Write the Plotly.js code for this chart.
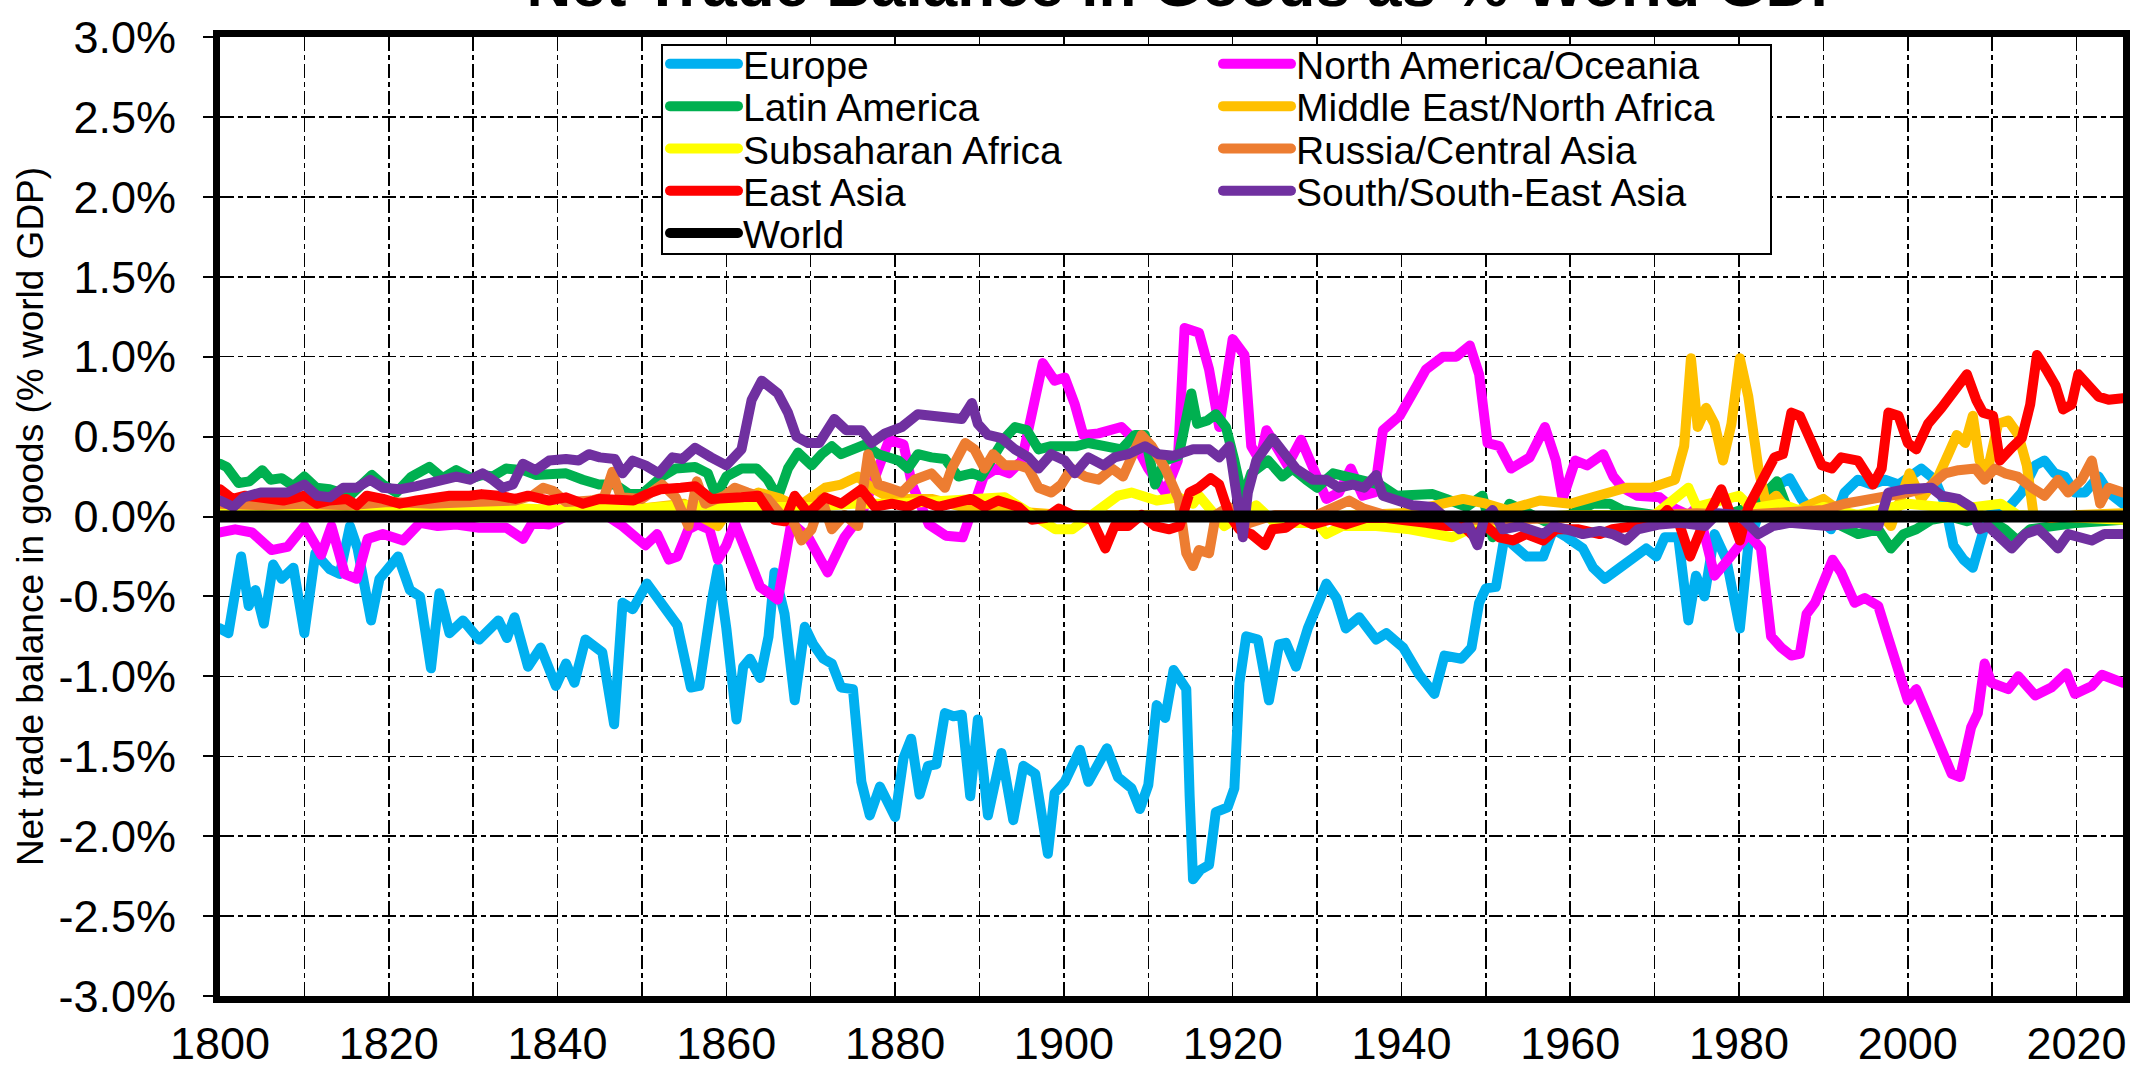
<!DOCTYPE html>
<html>
<head>
<meta charset="utf-8">
<script src="https://cdn.plot.ly/plotly-3.0.1.min.js"></script>
<style>
html,body{margin:0;padding:0;background:#fff;}
#chart{width:2131px;height:1074px;}
#chart .scatterlayer path.js-line{stroke-linejoin:round !important;stroke-linecap:round !important;}
#chart .legendlines path{stroke-linecap:round !important;}
</style>
</head>
<body>
<div id="chart"></div>
<script>
// ---------------- DATA (% of world GDP) ----------------
const seriesNames = ["Europe","North America/Oceania","Latin America","Middle East/North Africa",
  "Subsaharan Africa","Russia/Central Asia","East Asia","South/South-East Asia","World"];
const seriesColors = ["#00B0F0","#FF00FF","#00B050","#FFC000","#FFFF00","#ED7D31","#FF0000","#7030A0","#000000"];
// legend layout: column and row of each series in the two-column legend box
const legendCol = [0,1,0,1,0,1,0,1,0];
const legendRow = [0,0,1,1,2,2,3,3,4];

const europeYears = [1800,1801,1802.5,1803.4,1804.2,1805.2,1806.3,1807.3,1808.7,1810,1811.3,1813,1814.2,1815.4,1816.3,1817.9,1818.9,1821.1,1822.5,1823.7,1825,1826,1827.2,1828.8,1830.7,1833,1834,1834.9,1836.5,1838,1839.8,1841,1842,1843.3,1845.3,1846.7,1847.7,1848.9,1850.6,1852.6,1854.2,1855.8,1856.8,1858.4,1859,1860,1861.2,1862,1862.8,1864,1865,1865.7,1866.9,1868.1,1869.3,1870.3,1871.5,1872.5,1873.6,1875,1876,1877,1878.2,1880,1881,1881.9,1882.9,1883.9,1884.9,1885.9,1886.9,1887.9,1888.9,1889.8,1891,1892.6,1894,1895.2,1896.6,1898.1,1898.9,1900.1,1901.9,1902.9,1905.1,1906.4,1908,1909,1910,1911,1912,1913,1914.5,1914.9,1915.3,1916.2,1917.2,1918,1919.4,1920.2,1920.8,1921.6,1923,1924.3,1925.5,1926.3,1927.5,1928.9,1931.1,1932.3,1933.4,1935,1937,1938.2,1940.2,1942.1,1943.9,1945.1,1947.1,1948.3,1949.2,1950,1951.2,1952.2,1953.2,1954.8,1956.8,1958,1959.6,1961.5,1962.7,1964.1,1965.9,1967.4,1969,1970.2,1971.2,1972.8,1974,1974.9,1975.9,1977.1,1978.5,1980.1,1981.1,1982.6,1984.2,1986,1987.4,1989,1990.9,1992.5,1994.1,1995.7,1997.3,1998.9,2000.4,2001.6,2003.2,2004.4,2005.4,2006.6,2007.7,2008.7,2009.5,2011.5,2013.5,2015.1,2016.2,2017.4,2018.6,2019.8,2021,2022.6,2023.8,2025.5];
const europeValues = [-0.70,-0.73,-0.25,-0.56,-0.46,-0.67,-0.30,-0.39,-0.32,-0.73,-0.23,-0.33,-0.36,-0.06,-0.20,-0.65,-0.39,-0.25,-0.46,-0.50,-0.95,-0.48,-0.73,-0.65,-0.77,-0.65,-0.76,-0.63,-0.94,-0.82,-1.06,-0.92,-1.04,-0.77,-0.85,-1.30,-0.54,-0.58,-0.42,-0.56,-0.68,-1.07,-1.06,-0.49,-0.32,-0.70,-1.27,-0.94,-0.89,-1.01,-0.75,-0.35,-0.61,-1.15,-0.69,-0.80,-0.89,-0.92,-1.07,-1.08,-1.66,-1.87,-1.69,-1.88,-1.51,-1.39,-1.74,-1.56,-1.55,-1.23,-1.25,-1.24,-1.75,-1.27,-1.87,-1.48,-1.90,-1.56,-1.61,-2.11,-1.73,-1.66,-1.46,-1.66,-1.45,-1.63,-1.70,-1.83,-1.68,-1.18,-1.26,-0.96,-1.08,-1.75,-2.27,-2.21,-2.18,-1.85,-1.82,-1.70,-1.04,-0.75,-0.77,-1.15,-0.80,-0.79,-0.94,-0.70,-0.42,-0.51,-0.70,-0.63,-0.77,-0.73,-0.82,-0.99,-1.11,-0.87,-0.89,-0.82,-0.54,-0.45,-0.44,-0.13,-0.18,-0.25,-0.25,-0.08,-0.13,-0.20,-0.32,-0.39,-0.32,-0.27,-0.20,-0.25,-0.13,-0.13,-0.65,-0.37,-0.50,-0.11,-0.27,-0.70,-0.18,0.06,0.18,0.24,0.11,0.01,-0.08,0.15,0.23,0.20,0.23,0.20,0.25,0.30,0.23,0.08,-0.18,-0.27,-0.32,-0.13,0.01,0.03,0.15,0.32,0.35,0.27,0.25,0.15,0.15,0.25,0.15,0.08];

const northAmericaYears = [1800,1801.8,1803.8,1806.1,1808,1810,1812,1813.2,1814.8,1816.2,1817.5,1819.3,1821.7,1823.7,1825.8,1828,1830.7,1833.9,1835.9,1837,1839,1841,1844,1846,1847.7,1850.4,1851.8,1853.2,1854.2,1855.5,1856.6,1858,1859,1860,1861,1862.6,1864,1866.1,1867.1,1867.7,1869.7,1872,1874,1876,1878,1879.3,1881,1882,1884,1886,1888,1889.3,1890.5,1892,1893.5,1895,1896,1897.5,1898.9,1900.1,1901.3,1902.3,1904.1,1906.8,1908,1910,1912,1913.5,1914.3,1916,1917.2,1918.4,1920,1921.4,1922.2,1923.2,1924,1925.1,1926.5,1928.1,1929.5,1931.1,1932.6,1934,1935.4,1936.8,1937.8,1939.8,1941.3,1942.9,1944.9,1946.5,1948.1,1949.2,1950.2,1951.6,1953,1955.2,1957,1958.3,1959.1,1960.6,1962,1963.9,1965.1,1966.2,1967.9,1970.6,1972,1974,1975.1,1976.5,1977.1,1978.7,1979.9,1981.1,1982.6,1983.8,1985,1986.2,1987.2,1988,1989,1990.2,1991.1,1992.1,1993.7,1994.9,1996.5,1997.5,1998.9,2000,2001,2002.4,2004,2005.2,2006.2,2007.5,2008.3,2009.1,2009.9,2011.9,2013.1,2015.1,2017,2018.8,2019.8,2021.8,2023,2025.5];
const northAmericaValues = [-0.10,-0.08,-0.10,-0.21,-0.19,-0.06,-0.24,-0.06,-0.36,-0.39,-0.14,-0.11,-0.15,-0.04,-0.06,-0.05,-0.07,-0.07,-0.14,-0.04,-0.05,0.00,0.02,0.00,-0.06,-0.18,-0.11,-0.27,-0.25,-0.08,-0.05,-0.08,-0.27,-0.18,-0.04,-0.27,-0.44,-0.52,-0.20,-0.04,-0.13,-0.35,-0.13,0.01,0.30,0.48,0.45,0.20,-0.05,-0.12,-0.13,0.05,0.25,0.30,0.27,0.35,0.60,0.96,0.85,0.87,0.70,0.51,0.52,0.56,0.50,0.30,0.15,0.35,1.18,1.15,0.92,0.56,1.11,1.01,0.44,0.35,0.54,0.44,0.32,0.48,0.30,0.11,0.15,0.30,0.13,0.15,0.54,0.63,0.77,0.92,1.00,1.00,1.07,0.89,0.46,0.44,0.30,0.37,0.56,0.35,0.11,0.35,0.32,0.39,0.25,0.18,0.13,0.12,0.06,0.01,0.06,-0.23,-0.37,-0.27,-0.18,-0.11,-0.20,-0.75,-0.82,-0.87,-0.86,-0.61,-0.54,-0.39,-0.27,-0.35,-0.54,-0.51,-0.56,-0.73,-0.94,-1.15,-1.08,-1.27,-1.46,-1.61,-1.63,-1.32,-1.23,-0.92,-1.04,-1.08,-1.00,-1.12,-1.07,-0.98,-1.11,-1.06,-0.99,-1.04];

const latinAmericaYears = [1800,1800.8,1802.2,1803.5,1805,1806,1807.3,1808.7,1810,1811.4,1813,1815.4,1818,1819.3,1820.9,1822.7,1824.8,1826.4,1828,1829.8,1831.1,1832.3,1833.9,1835.9,1837.4,1839,1841,1843,1844.9,1846.8,1848.5,1850,1852.4,1854,1856.3,1857.8,1858.8,1860,1861.8,1863.6,1864.9,1866.1,1867.3,1868.5,1870.1,1871.3,1872.5,1873.6,1875.2,1876.4,1878,1879.2,1880.4,1881.5,1882.7,1884.3,1885.9,1887.5,1889.1,1890.2,1891.4,1893,1894.2,1895.6,1897,1898.5,1900.1,1901.5,1902.9,1904.9,1906.8,1908.4,1909.6,1910.8,1912,1913.6,1915.1,1915.8,1917,1918,1919.2,1920.2,1921.2,1922.2,1924.2,1925.9,1927.1,1928.7,1930,1931.9,1933.8,1935.4,1937.4,1939.4,1941.3,1943.7,1945.3,1947.7,1949.6,1950.8,1952.8,1955,1957,1959.5,1962.7,1964.7,1966.2,1970,1975,1979,1981.5,1984.5,1986,1991,1994.1,1996.5,1998,1999.5,2001,2002.8,2005,2007,2009,2011.5,2013,2014.5,2017,2020,2025.5];
const latinAmericaValues = [0.33,0.31,0.21,0.22,0.29,0.23,0.24,0.19,0.25,0.18,0.17,0.13,0.26,0.20,0.15,0.25,0.31,0.24,0.29,0.24,0.26,0.25,0.30,0.29,0.26,0.27,0.27,0.23,0.20,0.20,0.14,0.14,0.25,0.30,0.31,0.27,0.13,0.25,0.30,0.30,0.23,0.12,0.30,0.40,0.32,0.39,0.44,0.39,0.42,0.45,0.39,0.37,0.35,0.30,0.39,0.37,0.36,0.25,0.27,0.25,0.35,0.49,0.56,0.54,0.42,0.44,0.44,0.44,0.46,0.44,0.42,0.51,0.51,0.20,0.35,0.38,0.77,0.58,0.60,0.64,0.56,0.35,0.11,0.27,0.35,0.25,0.30,0.23,0.18,0.27,0.25,0.23,0.20,0.13,0.13,0.14,0.11,0.06,0.13,-0.13,0.08,0.02,-0.03,0.00,0.08,0.08,0.04,0.01,0.00,0.02,0.06,0.22,0.01,-0.03,-0.11,-0.08,-0.20,-0.11,-0.08,-0.02,0.00,-0.03,0.00,-0.08,-0.15,-0.08,-0.06,-0.04,-0.02];

const menaYears = [1800,1820,1840,1850,1855,1856.6,1859,1860.5,1863.8,1866.5,1868.5,1871.7,1873.6,1875.6,1877.2,1879.6,1884.3,1888,1892,1900,1910,1920,1930,1940,1945.3,1947.3,1950,1952.5,1956.4,1960,1962,1964.3,1966.6,1969.6,1972.4,1973.5,1974.3,1975.1,1976.1,1977.1,1978.1,1979.1,1980.1,1981.1,1982.3,1983.2,1984.4,1986.2,1987.8,1990,1991.8,1994.1,1996.5,1998,2000.2,2001.6,2003.6,2004.8,2005.8,2006.8,2007.7,2008.5,2009.5,2010.7,2011.9,2013.1,2014.1,2014.9,2017,2020.2,2025.5];
const menaValues = [0.02,0.03,0.04,0.05,0.08,0.01,-0.06,0.06,0.15,0.11,0.06,0.18,0.20,0.25,0.18,0.11,0.11,0.06,0.04,0.01,0.01,0.00,0.00,0.02,0.08,0.11,0.08,0.04,0.10,0.08,0.11,0.15,0.18,0.18,0.23,0.44,0.99,0.56,0.68,0.58,0.35,0.58,0.99,0.75,0.30,0.08,0.13,0.01,0.06,0.11,0.04,-0.01,0.04,-0.06,0.27,0.11,0.25,0.39,0.51,0.46,0.63,0.35,0.30,0.58,0.60,0.51,0.32,0.01,-0.01,0.01,0.02];

const subsaharanYears = [1800,1810,1820,1830,1833,1836,1840,1845,1850,1855,1860,1865,1870,1875,1880,1885,1890,1893,1896,1899,1901,1903,1906.4,1908,1911,1913.6,1915.3,1916,1917,1919,1922.8,1925,1930,1931.1,1933,1937,1941,1946,1948,1951,1955,1960,1965,1970,1974,1975,1980,1981.5,1985,1988,1990,1994,2000,2004,2008,2011,2013,2017,2025.5];
const subsaharanValues = [0.03,0.04,0.04,0.05,0.06,0.05,0.04,0.05,0.05,0.07,0.06,0.06,0.06,0.08,0.08,0.10,0.11,0.12,0.02,-0.08,-0.08,0.00,0.13,0.15,0.10,0.12,0.08,0.13,0.06,-0.06,0.07,-0.04,-0.04,-0.11,-0.06,-0.06,-0.08,-0.13,-0.08,-0.04,-0.01,0.01,0.01,0.01,0.18,0.06,0.13,0.05,0.08,0.02,0.06,0.01,0.08,0.06,0.06,0.08,0.01,0.00,-0.02];

const russiaYears = [1800,1805,1810,1815,1820,1825,1830,1835,1837,1838.3,1839.5,1841,1844,1845.5,1846.5,1847.5,1850,1852.4,1854,1855.5,1856.5,1857.5,1859.8,1861,1862.5,1864.9,1866.5,1868,1868.9,1870.1,1871.3,1872.5,1874,1875.6,1876.8,1878,1879.2,1880.8,1882.3,1884.3,1885.9,1886.7,1888.3,1889.4,1890.6,1891.6,1893,1894.6,1895.8,1897,1898.5,1899.7,1900.9,1902.5,1904.1,1905.7,1907,1908,1909.2,1910.4,1912,1913.6,1914.5,1915.3,1916,1917.2,1918,1919.5,1922,1925,1930,1933.8,1935.5,1938,1942,1946,1950,1955,1960,1965,1970,1975,1980,1985,1990,1992.5,1995,1997.3,2000,2002.4,2004.4,2006,2008,2009.1,2010.3,2011.5,2013,2014.7,2016.2,2017.8,2019,2020.6,2021.8,2022.8,2023.8,2025.5];
const russiaValues = [0.08,0.07,0.08,0.07,0.09,0.08,0.09,0.10,0.13,0.18,0.16,0.09,0.10,0.12,0.28,0.12,0.11,0.20,0.12,-0.06,0.22,0.08,0.13,0.18,0.15,0.11,0.01,-0.04,-0.15,-0.08,0.11,-0.08,0.01,-0.06,0.39,0.20,0.18,0.15,0.23,0.27,0.18,0.30,0.46,0.42,0.30,0.39,0.32,0.32,0.30,0.18,0.15,0.20,0.30,0.25,0.23,0.30,0.25,0.37,0.51,0.44,0.30,0.11,-0.23,-0.31,-0.21,-0.23,0.01,0.06,-0.04,0.01,0.01,0.10,0.05,0.01,-0.01,-0.02,-0.02,-0.02,-0.01,0.00,0.01,0.02,0.01,0.03,0.04,0.08,0.10,0.13,0.15,0.18,0.27,0.29,0.30,0.23,0.30,0.27,0.25,0.18,0.13,0.23,0.15,0.23,0.35,0.08,0.18,0.15];

const eastAsiaYears = [1800,1801.5,1803,1805,1807.5,1810,1811.5,1813,1815,1816.2,1817.4,1819.3,1821.3,1823.3,1825.3,1827.2,1829.6,1831,1833,1835,1836.5,1839,1841,1843,1845,1847,1849,1850.6,1852.2,1854.6,1856.3,1858.2,1860,1861.8,1863.8,1865.7,1866.9,1868.1,1869.7,1871.7,1873.6,1876,1877.6,1879.6,1881.5,1883.1,1885.1,1886.7,1889,1890.6,1892.2,1894.6,1896.2,1897.8,1899.4,1901,1903.3,1904.9,1906,1907.6,1909.2,1910.8,1912.5,1913.7,1914.9,1916,1917.4,1918.4,1919.6,1920.8,1922.2,1923.8,1924.7,1926.3,1927.9,1929.5,1931.5,1933.4,1935.8,1938.2,1940.5,1942.9,1945.3,1947.3,1948.5,1950,1951.6,1953.2,1954.8,1956.8,1958.3,1961,1963.5,1965,1967.5,1970,1971.5,1973,1974.2,1975.5,1977.9,1980.1,1981.1,1982.6,1984.2,1985.2,1986.2,1987.2,1988.6,1989.8,1991,1992.1,1994.1,1995.9,1996.9,1997.7,1998.9,2000,2001,2002.4,2004,2005.4,2007,2008.1,2008.9,2010.1,2010.9,2012.3,2013.5,2014.5,2015.3,2016.4,2017.5,2018.4,2019.4,2020.2,2021,2022.6,2023.8,2025.5];
const eastAsiaValues = [0.17,0.11,0.13,0.11,0.10,0.13,0.08,0.10,0.11,0.07,0.13,0.11,0.08,0.10,0.12,0.13,0.13,0.14,0.13,0.11,0.13,0.10,0.12,0.08,0.11,0.11,0.10,0.14,0.17,0.18,0.19,0.11,0.11,0.12,0.13,-0.02,-0.03,0.13,0.02,0.12,0.08,0.17,0.06,0.08,0.06,0.10,0.06,0.08,0.11,0.06,0.10,0.06,-0.02,-0.01,0.05,0.01,-0.02,-0.20,-0.06,-0.06,0.01,-0.06,-0.08,-0.06,0.15,0.18,0.24,0.20,0.01,-0.08,-0.11,-0.18,-0.08,-0.07,-0.01,-0.05,-0.02,-0.05,-0.01,-0.01,-0.02,-0.04,-0.06,-0.06,-0.12,-0.06,-0.13,-0.15,-0.11,-0.15,-0.08,-0.08,-0.11,-0.08,-0.06,-0.04,0.04,-0.06,-0.25,-0.08,0.17,-0.15,0.06,0.20,0.37,0.39,0.65,0.63,0.44,0.32,0.30,0.37,0.35,0.20,0.30,0.65,0.63,0.46,0.42,0.58,0.68,0.77,0.89,0.73,0.65,0.63,0.35,0.43,0.49,0.70,1.01,0.92,0.82,0.67,0.70,0.89,0.85,0.75,0.73,0.74];

const southAsiaYears = [1800,1801.6,1802.8,1804.8,1806.5,1808,1810,1811.5,1813,1814.6,1816.2,1817.8,1819.3,1821.3,1823.3,1824.8,1826,1828,1829.6,1831.1,1832.3,1833.5,1834.7,1835.9,1837.4,1839,1841,1842.5,1843.7,1845,1846.8,1847.7,1848.9,1850.4,1852,1853.6,1854.8,1856.3,1858.2,1860,1861.8,1863,1864.2,1866.1,1867.3,1868.3,1869.7,1871,1872.8,1874.2,1876,1877.2,1878.8,1880.8,1882.7,1884.3,1886,1887.9,1889.1,1889.8,1891,1892.6,1894.2,1895.8,1897,1898.5,1900.1,1901.3,1902.9,1904.7,1906,1907.6,1909.6,1911.2,1913,1915.3,1917.2,1918.4,1919.6,1920.6,1921.2,1921.8,1922.8,1924.7,1926.3,1927.5,1929.5,1931.1,1932.6,1934.2,1935.6,1937,1937.8,1939.4,1941.3,1943.7,1945.3,1946.9,1948,1949,1949.8,1950.8,1952,1954,1956.8,1958,1959.5,1961.5,1963.5,1965,1966.6,1968,1970.6,1973,1976,1977.5,1980,1982.3,1984,1986,1990.5,1994,1996.5,1997.7,1999.6,2002.8,2004,2006,2007.5,2008.5,2009.5,2011.1,2012.3,2013.9,2015.5,2016.5,2017.8,2019,2020.2,2021.8,2023.3,2025.5];
const southAsiaValues = [0.10,0.06,0.12,0.15,0.15,0.15,0.20,0.13,0.12,0.18,0.18,0.23,0.18,0.17,0.19,0.21,0.23,0.25,0.23,0.27,0.23,0.18,0.20,0.33,0.29,0.35,0.36,0.35,0.39,0.37,0.36,0.27,0.35,0.32,0.27,0.37,0.36,0.43,0.37,0.32,0.42,0.73,0.85,0.77,0.65,0.50,0.46,0.46,0.61,0.54,0.54,0.46,0.52,0.56,0.64,0.63,0.63,0.61,0.71,0.58,0.51,0.49,0.42,0.37,0.30,0.39,0.35,0.27,0.37,0.32,0.37,0.39,0.44,0.39,0.38,0.42,0.42,0.37,0.44,0.01,-0.13,0.15,0.35,0.49,0.37,0.30,0.23,0.23,0.18,0.20,0.18,0.26,0.13,0.10,0.07,0.06,-0.02,-0.08,-0.06,-0.18,-0.01,0.04,-0.08,-0.06,-0.11,-0.06,-0.08,-0.11,-0.09,-0.11,-0.15,-0.08,-0.05,-0.04,-0.06,0.02,0.01,-0.11,-0.06,-0.04,-0.06,-0.04,-0.06,0.15,0.17,0.18,0.13,0.11,0.06,-0.08,-0.06,-0.13,-0.20,-0.11,-0.08,-0.13,-0.20,-0.11,-0.13,-0.15,-0.11,-0.11];

const worldYears = [1800,1850,1900,1950,2000,2025.5];
const worldValues = [0,0,0,0,0,0];

const yTickVals = [-3,-2.5,-2,-1.5,-1,-0.5,0,0.5,1,1.5,2,2.5,3];
const yTickText = ["-3.0%","-2.5%","-2.0%","-1.5%","-1.0%","-0.5%","0.0%","0.5%","1.0%","1.5%","2.0%","2.5%","3.0%"];
const xTickVals = [1800,1820,1840,1860,1880,1900,1920,1940,1960,1980,2000,2020];
const xTickText = ["1800","1820","1840","1860","1880","1900","1920","1940","1960","1980","2000","2020"];

const chartTitle = "Net Trade Balance in Goods as % World GDP";
const yAxisTitle = "Net trade balance in goods (% world GDP)";

// ---------------- BUILD ----------------
const allX = [europeYears,northAmericaYears,latinAmericaYears,menaYears,subsaharanYears,russiaYears,eastAsiaYears,southAsiaYears,worldYears];
const allY = [europeValues,northAmericaValues,latinAmericaValues,menaValues,subsaharanValues,russiaValues,eastAsiaValues,southAsiaValues,worldValues];

const FONT = "Liberation Sans, Arial, Helvetica, sans-serif";
const W = 2131, H = 1074;
const M = {l: 220, r: 8, t: 37, b: 78};
const plotW = W - M.l - M.r, plotH = H - M.t - M.b;

// legend geometry (pixels in the page)
const legendBox = {left: 662, right: 1771, top: 45, bottom: 254};
const legendColLeft = [665, 1218];
const legendRowCenter0 = 64, legendRowStep = 42.3;
const px2paperX = p => (p - M.l) / plotW;
const px2paperY = p => 1 - (p - M.t) / plotH;

const legendKey = i => (i === 0 ? "legend" : "legend" + (i + 1));

const traces = seriesNames.map((name, i) => ({
  type: "scatter",
  mode: "lines",
  name: name,
  x: allX[i],
  y: allY[i],
  line: {color: seriesColors[i], width: name === "World" ? 12 : 10},
  legend: legendKey(i),
  hoverinfo: "x+y+name"
}));

const gridDash = "14px,4px,5px,4px";
const layout = {
  width: W, height: H,
  paper_bgcolor: "#ffffff", plot_bgcolor: "#ffffff",
  margin: {l: M.l, r: M.r, t: M.t, b: M.b, pad: 0},
  font: {family: FONT, color: "#000"},
  title: {
    text: chartTitle,
    font: {family: FONT, size: 62, weight: "bold", color: "#000"},
    x: 0.558, xanchor: "center", xref: "container",
    y: 0.994, yanchor: "bottom", yref: "container"
  },
  showlegend: true,
  shapes: [{
    type: "rect", xref: "paper", yref: "paper", layer: "above",
    x0: px2paperX(legendBox.left), x1: px2paperX(legendBox.right),
    y0: px2paperY(legendBox.bottom), y1: px2paperY(legendBox.top),
    fillcolor: "#ffffff", line: {color: "#000", width: 2}
  }],
  xaxis: {
    range: [1800, 2025.5],
    tickmode: "array", tickvals: xTickVals, ticktext: xTickText,
    tickfont: {family: FONT, size: 45, color: "#000"},
    ticks: "", ticklabelstandoff: 2, ticklabeloverflow: "allow",
    showgrid: true, gridcolor: "#000", gridwidth: 1.5, griddash: gridDash,
    minor: {dtick: 10, tick0: 1800, showgrid: true, gridcolor: "#000", gridwidth: 1.5, griddash: gridDash, ticks: ""},
    showline: true, linecolor: "#000", linewidth: 7, mirror: true,
    zeroline: false, fixedrange: true
  },
  yaxis: {
    range: [-3, 3],
    tickmode: "array", tickvals: yTickVals, ticktext: yTickText,
    tickfont: {family: FONT, size: 45, color: "#000"},
    ticks: "outside", ticklen: 10, tickwidth: 2, tickcolor: "#000",
    ticklabelstandoff: 18,
    showgrid: true, gridcolor: "#000", gridwidth: 1.5, griddash: gridDash,
    showline: true, linecolor: "#000", linewidth: 7, mirror: true,
    zeroline: false, fixedrange: true,
    title: {text: yAxisTitle, font: {family: FONT, size: 37, color: "#000"}, standoff: 6}
  }
};

// one single-entry legend per series, placed in the two-column grid of the box
seriesNames.forEach((name, i) => {
  layout[legendKey(i)] = {
    orientation: "v",
    x: px2paperX(legendColLeft[legendCol[i]]),
    y: px2paperY(legendRowCenter0 + legendRow[i] * legendRowStep),
    xanchor: "left", yanchor: "middle",
    xref: "paper", yref: "paper",
    bgcolor: "rgba(0,0,0,0)", borderwidth: 0,
    font: {family: FONT, size: 39, color: "#000"},
    itemwidth: 68
  };
});

Plotly.newPlot("chart", traces, layout, {staticPlot: true, displayModeBar: false});
</script>
</body>
</html>
